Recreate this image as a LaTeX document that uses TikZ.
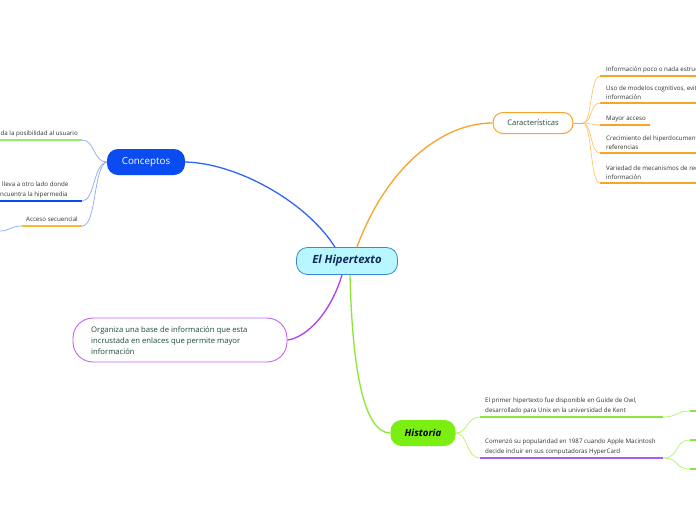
\documentclass[tikz,border=0pt]{standalone}
\usepackage{fontspec}
\setmainfont{Open Sans}
\definecolor{cfill}{HTML}{B8F7FF}
\definecolor{cbord}{HTML}{3A8AD0}
\definecolor{ctext}{HTML}{14285A}
\definecolor{cblue}{HTML}{0A4CF2}
\definecolor{lblue}{HTML}{8DA9F7}
\definecolor{corange}{HTML}{F7A42A}
\definecolor{lorange}{HTML}{FFC56B}
\definecolor{dgreen}{HTML}{1E4A3A}
\definecolor{cpurple}{HTML}{B03DF0}
\definecolor{cgreen}{HTML}{7BEE12}
\definecolor{mgreen}{HTML}{8CE63A}
\definecolor{lgreen}{HTML}{B8F06A}
\definecolor{lpurple}{HTML}{A95CF2}
\definecolor{uyellow}{HTML}{F5BD35}
\definecolor{ugreen}{HTML}{92EC62}
\definecolor{ltext}{HTML}{333333}
\tikzset{
  central/.style={draw=cbord, fill=cfill, line width=0.8pt, rounded corners=11pt, minimum width=101pt, minimum height=27pt, inner sep=0pt, text=ctext, font=\fontsize{11.3}{13}\selectfont\bfseries\itshape},
  concept/.style={fill=cblue, rounded corners=11pt, minimum width=78pt, minimum height=26pt, inner sep=0pt, text=white, font=\fontsize{9.8}{11}\selectfont},
  carac/.style={draw=corange, fill=white, line width=1pt, rounded corners=10pt, minimum width=80pt, minimum height=21pt, inner sep=0pt, text=dgreen, font=\fontsize{7.6}{9}\selectfont},
  orgbox/.style={draw=cpurple!80, fill=white, line width=0.9pt, rounded corners=20pt, minimum width=214pt, minimum height=44pt, inner sep=0pt, text=dgreen, font=\fontsize{7.7}{11}\selectfont, align=left},
  histbox/.style={fill=cgreen, rounded corners=11pt, minimum width=65pt, minimum height=26pt, inner sep=0pt, text=black, font=\fontsize{9.7}{11}\selectfont\bfseries\itshape},
  leaf/.style={inner sep=0pt, text=ltext, font=\fontsize{6.2}{9.5}\selectfont, align=left},
  main/.style={line width=1.3pt},
  sub/.style={line width=0.7pt},
  uline/.style={line width=2pt},
}
\begin{document}
\begin{tikzpicture}[x=1pt,y=-1pt]
\useasboundingbox (0,0) rectangle (696,520);
\clip (0,0) rectangle (696,520);
\fill[white] (0,0) rectangle (696,520);

% main nodes
\node[central] (c) at (347,261) {El Hipertexto};
\node[concept] (con) at (146,162) {Conceptos};
\node[carac] (car) at (533,123) {Características};
\node[orgbox] (org) at (180,340) {};
\node[anchor=west, inner sep=0pt, text=dgreen, font=\fontsize{7.7}{11}\selectfont, align=left] (orgt) at (91,341) {Organiza una base de información que esta\\incrustada en enlaces que permite mayor\\información};
\node[histbox] (his) at (423,433) {Historia};

% main connectors
\draw[main, cblue!85] (c.north) ++(-12,0) coordinate (c1) (c1) .. controls (305,200) and (235,163) .. (con.east);
\draw[main, corange] (c.north) ++(10,0) coordinate (c2) (c2) .. controls (385,170) and (440,123) .. (car.west);
\draw[main, cpurple] (c.south) ++(-5,0) coordinate (c3) (c3) .. controls (330,315) and (305,338) .. (org.east);
\draw[main, mgreen] (c.south) ++(3,0) coordinate (c4) (c4) .. controls (352,360) and (362,433) .. (his.west);

% Conceptos leaves
\coordinate (k1a) at (0,140); \coordinate (k1b) at (82,140);
\coordinate (k2a) at (0,201); \coordinate (k2b) at (82,201);
\coordinate (k3a) at (22,226); \coordinate (k3b) at (82,226);
\coordinate (k3c) at (0,231);
\node[leaf, anchor=south east] (k1) at (78,137) {e da la posibilidad al usuario};
\node[leaf, anchor=south west] (k2) at (0,198) {\hspace{2pt}lleva a otro lado donde\\ncuentra la hipermedia};
\node[leaf, anchor=south east] (k3) at (78,222) {Acceso secuencial};
\draw[uline, ugreen] (k1a) -- (k1b);
\draw[uline, cblue] (k2a) -- (k2b);
\draw[uline, uyellow] (k3a) -- (k3b);
\draw[sub, lblue] (k1b) .. controls (95,140) and (93,162) .. (con.west);
\draw[sub, lblue] (k2b) .. controls (95,201) and (93,164) .. (con.west);
\draw[sub, lblue] (k3b) .. controls (97,226) and (93,166) .. (con.west);
\draw[sub, lblue] (k3a) .. controls (10,226) and (10,231) .. (k3c);

% Caracteristicas leaves
\coordinate (b) at (583,123);
\draw[sub, corange] (car.east) -- (b);
\foreach \n/\y in {1/76,2/103,3/125,4/153,5/183}{
  \coordinate (r\n) at (600,\y);
  \draw[sub, lorange] (b) .. controls (592,123) and (590,\y) .. (r\n);
}
\draw[uline, corange] (r1) -- (700,76);
\draw[uline, corange] (r2) -- (700,103);
\draw[uline, corange] (r3) -- (650,125);
\draw[uline, corange] (r4) -- (700,153);
\draw[uline, corange] (r5) -- (700,183);
\node[leaf, anchor=south west] (t1) at (606,73) {Información poco o nada estructurada};
\node[leaf, anchor=south west] (t2) at (606,100) {Uso de modelos cognitivos, evitando la sobrecarga de\\información};
\node[leaf, anchor=south west] (t3) at (606,122) {Mayor acceso};
\node[leaf, anchor=south west] (t4) at (606,150) {Crecimiento del hiperdocumento mediante\\referencias};
\node[leaf, anchor=south west] (t5) at (606,180) {Variedad de mecanismos de recuperación de\\información};

% Historia leaves
\coordinate (h1a) at (480,417); \coordinate (h1b) at (663,417);
\coordinate (h2a) at (480,458); \coordinate (h2b) at (663,458);
\draw[sub, lgreen] (his.east) .. controls (468,433) and (466,417) .. (h1a);
\draw[sub, lgreen] (his.east) .. controls (468,433) and (466,458) .. (h2a);
\draw[uline, mgreen] (h1a) -- (h1b);
\draw[uline, lpurple] (h2a) -- (h2b);
\node[leaf, anchor=south west] (e1) at (485,414) {El primer hipertexto fue disponible en Guide de Owl,\\desarrollado para Unix en la universidad de Kent};
\node[leaf, anchor=south west] (e2) at (485,455) {Comenzó su popularidad en 1987 cuando Apple Macintosh\\decide incluir en sus computadoras HyperCard};
\coordinate (g1) at (690,411); \coordinate (g2) at (690,440); \coordinate (g3) at (690,469);
\draw[sub, lgreen] (h1b) .. controls (678,417) and (676,411) .. (g1);
\draw[sub, lgreen] (h2b) .. controls (680,458) and (674,440) .. (g2);
\draw[sub, lgreen] (h2b) .. controls (680,458) and (674,469) .. (g3);
\draw[uline, mgreen] (g1) -- (700,411);
\draw[uline, mgreen] (g2) -- (700,440);
\draw[uline, mgreen] (g3) -- (700,469);
\end{tikzpicture}
\end{document}
